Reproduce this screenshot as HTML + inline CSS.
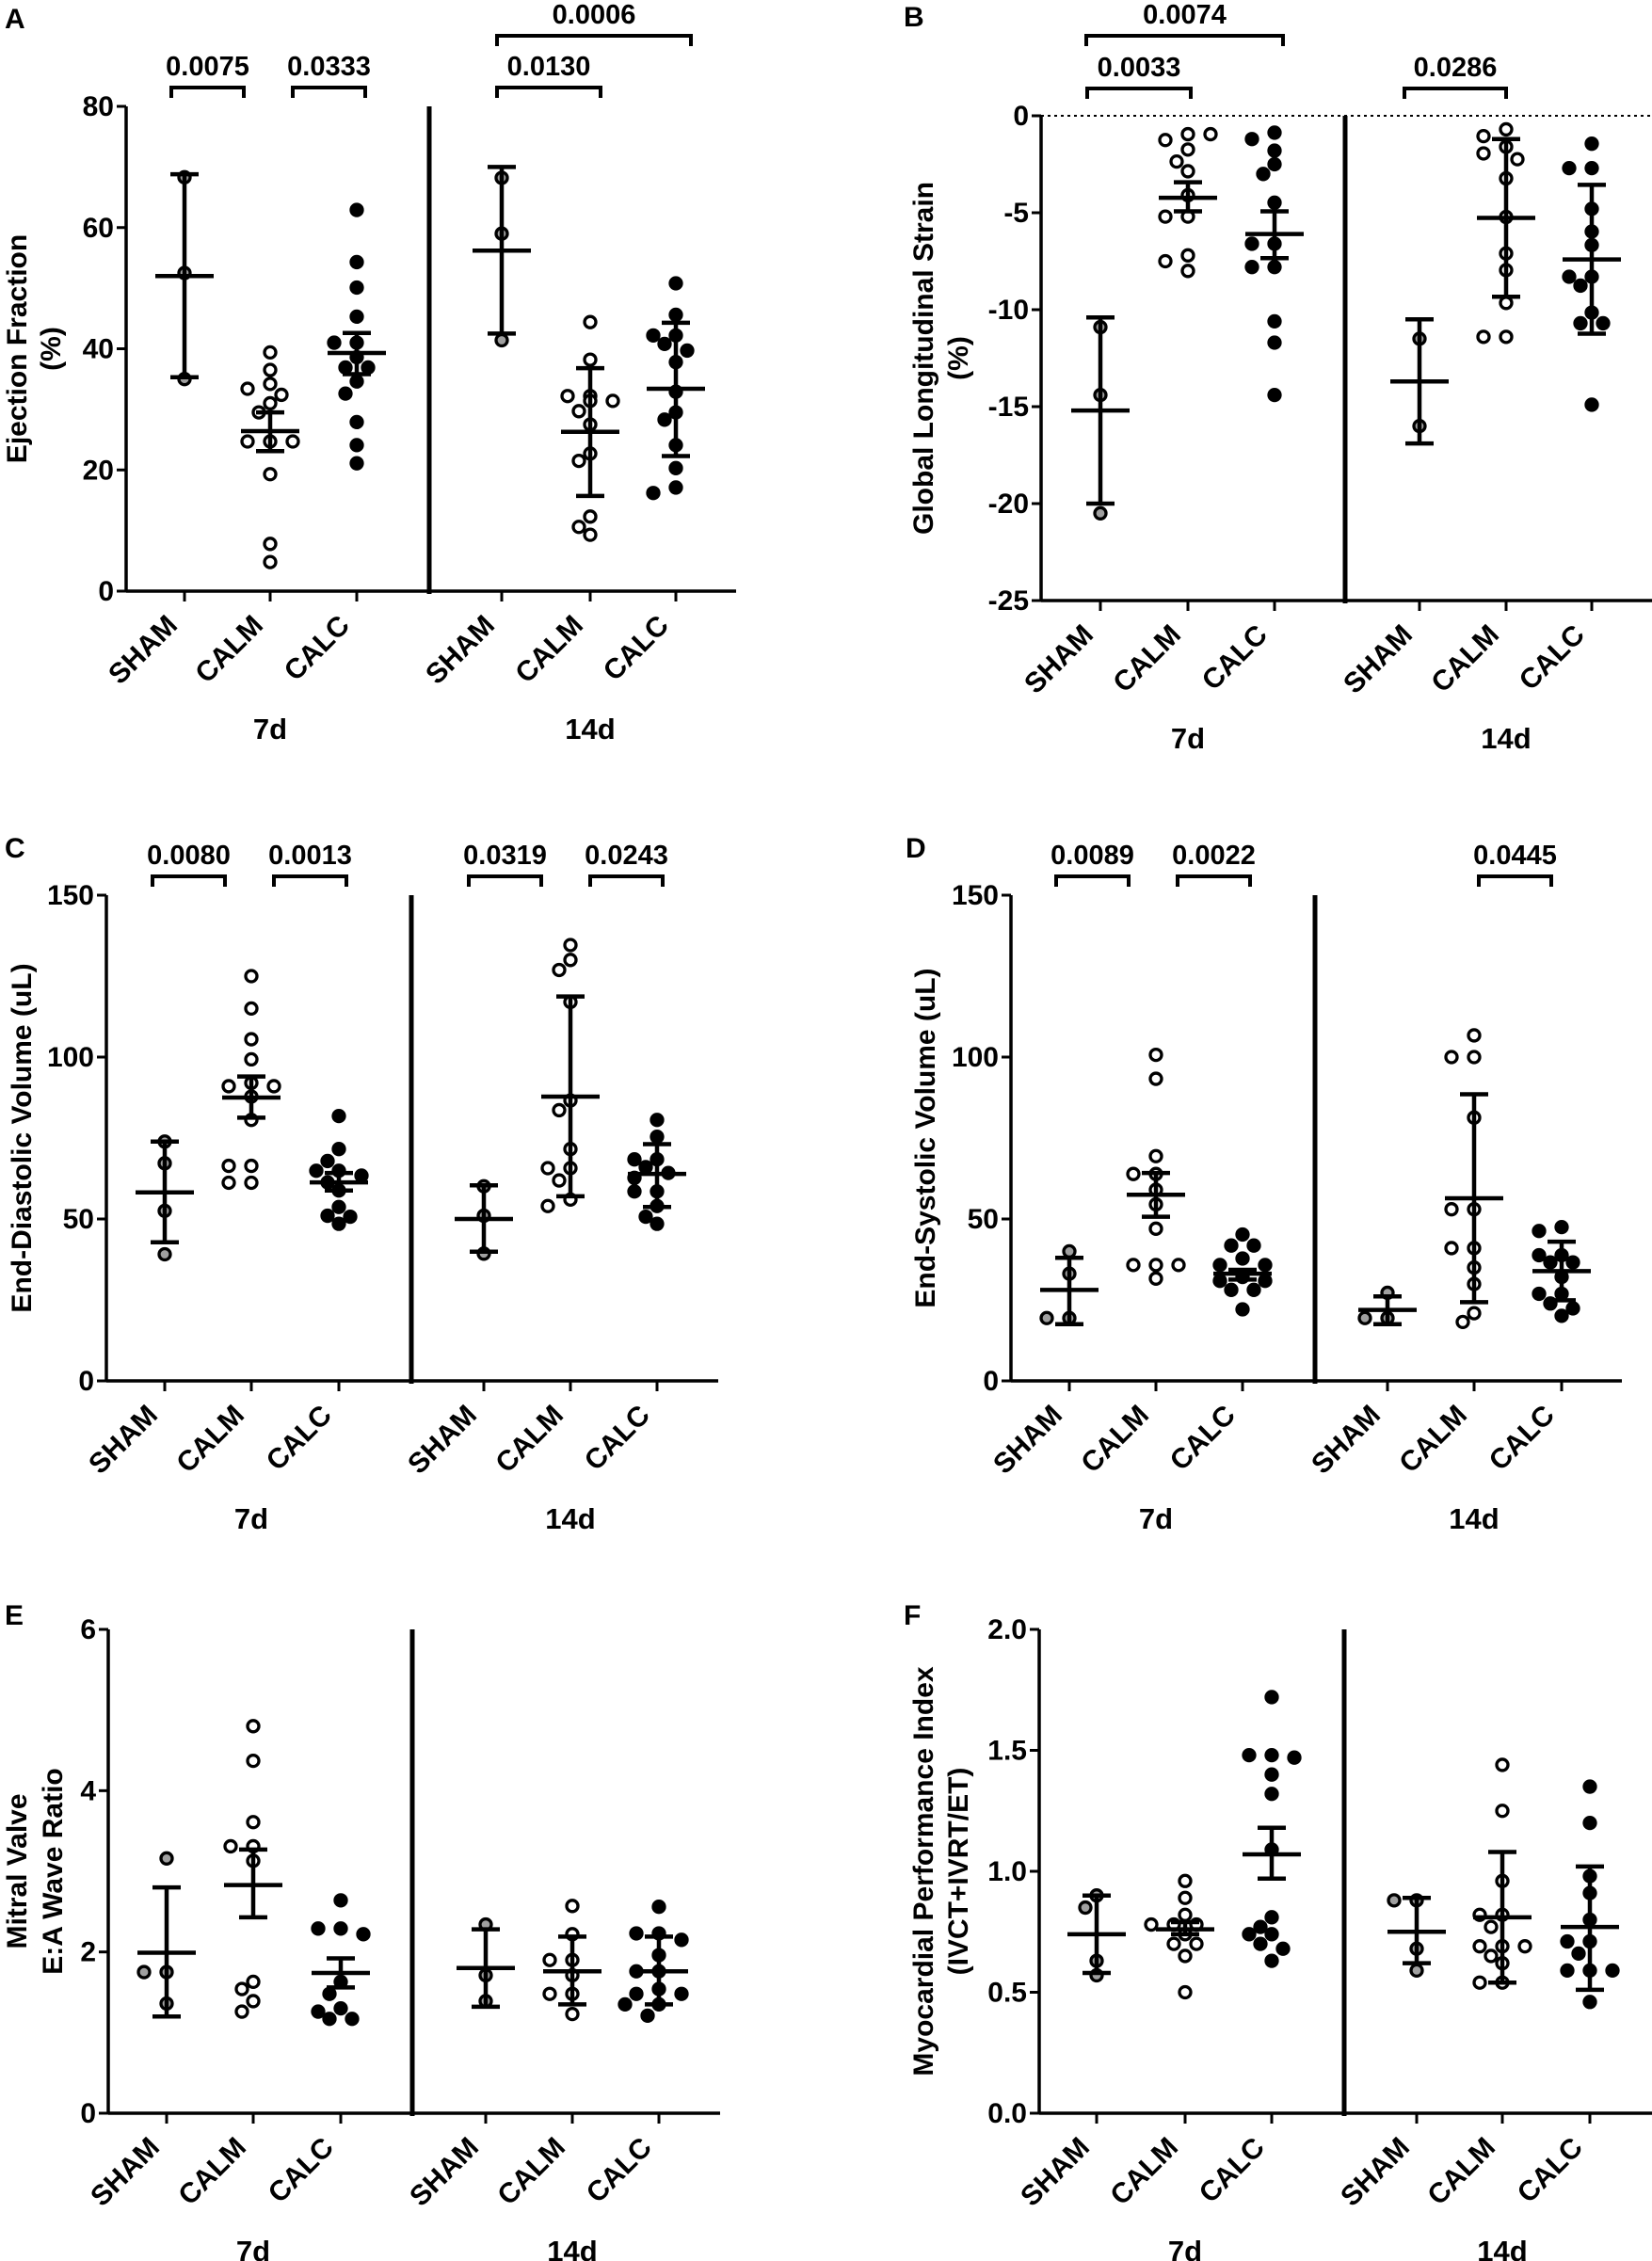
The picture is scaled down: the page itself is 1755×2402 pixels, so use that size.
<!DOCTYPE html>
<html><head><meta charset="utf-8">
<style>
html,body{margin:0;padding:0;background:#fff;}
svg{display:block;}
text{font-family:"Liberation Sans",Arial,sans-serif;font-weight:bold;fill:#000;}
</style></head>
<body>
<svg id="fig" width="1755" height="2402" viewBox="0 0 1755 2402" xmlns="http://www.w3.org/2000/svg"></svg>
<script>
// ---- data ----
const groupNames = ["SHAM","CALM","CALC","SHAM","CALM","CALC"];
const timeLabels = ["7d","14d"];
// Panel A: Ejection Fraction (%)
const efPoints = [[68.3,52.5,35],[39.4,36.5,34.2,33.4,32.4,31,29.5,24.7,24.7,24.7,19.3,7.8,4.8],[62.9,54.3,50.1,45.3,41,41,38.6,36.9,36.9,34.6,32.6,27.9,24.1,21.1],[68.2,59,41.4],[44.4,38.2,32.2,32.2,31.4,31.4,29.7,27.5,22.7,21.5,12.3,10.6,9.3],[50.8,45.6,42.2,42.2,40.8,39.7,37.8,32.9,29.5,28.3,24.1,20.3,17.1,16.2]];
const efMean = [52,26.4,39.3,56.2,26.3,33.4];
const efLo = [35.3,23.1,35.8,42.5,15.7,22.3];
const efHi = [68.8,29.5,42.6,70,36.8,44.3];
const efTicks = [0,20,40,60,80];
const efSig = [["0.0075",0,1],["0.0333",1,2],["0.0130",3,4],["0.0006",3,5]];
// Panel B: Global Longitudinal Strain (%)
const glsPoints = [[-10.9,-14.4,-20.5],[-0.95,-1.25,-1.74,-2.36,-2.86,-4.1,-5.2,-5.2,-7.2,-7.5,-8.0,-0.95],[-0.87,-1.2,-1.8,-2.5,-3.0,-4.48,-6.6,-6.6,-7.8,-7.8,-10.6,-11.7,-14.4],[-11.5,-16],[-0.7,-1.05,-1.6,-1.94,-2.24,-3.23,-5.22,-7.1,-7.96,-9.65,-11.4,-11.4],[-1.44,-2.7,-2.7,-4.8,-5.97,-6.67,-8.3,-8.3,-8.76,-10.15,-10.7,-10.7,-14.9]];
const glsMean = [-15.2,-4.23,-6.1,-13.7,-5.27,-7.41];
const glsLo = [-20,-4.93,-7.34,-16.9,-9.33,-11.24];
const glsHi = [-10.4,-3.43,-4.93,-10.5,-1.2,-3.56];
const glsTicks = [0,-5,-10,-15,-20,-25];
const glsSig = [["0.0033",0,1],["0.0074",0,2],["0.0286",3,4]];
// Panel C: End-Diastolic Volume (uL)
const edvPoints = [[73.9,67.2,52.5,39.1],[125,115,105.5,99.3,92,91,91,87.8,80.6,66.4,66.4,61.2,61.2],[81.8,71.6,67.9,64.9,64.9,63.4,61.3,58.8,53.7,51,50.7,48.5],[60.1,51,39.3],[134.6,130,126.9,117,86.6,83.6,71.6,65.7,65.7,61.9,56,54],[80.6,75.4,68.4,68.4,66,64.2,62.7,58.5,58.5,54,50.7,48.5]];
const edvMean = [58.2,87.5,61.3,50,87.8,63.9];
const edvLo = [42.8,81.3,58.8,39.9,57,53.7];
const edvHi = [73.9,94,64.2,60.4,118.7,73.1];
const volTicks = [0,50,100,150];
const edvSig = [["0.0080",0,1],["0.0013",1,2],["0.0319",3,4],["0.0243",4,5]];
// Panel D: End-Systolic Volume (uL)
const esvPoints = [[40,33.1,19.4,19.4],[100.7,93.3,69.4,63.9,63.9,59,54.5,47,35.8,35.8,35.8,31.6],[45.2,41.8,41.8,37.8,35.8,35.8,32.1,30.9,30.9,28.1,28.1,22.1],[27.2,19.4,19.4],[106.7,100,100,81.3,53,53,41,41,35,29.9,20.9,18.2],[47.5,46.3,38.8,38.8,36.6,36.6,32.1,26.9,26.9,23.9,22.4,20.1]];
const esvMean = [28.1,57.5,33.1,21.9,56.4,33.9];
const esvLo = [17.5,50.7,31.3,17.5,24.3,24.9];
const esvHi = [38,64.2,34.3,26.1,88.5,43];
const esvSig = [["0.0089",0,1],["0.0022",1,2],["0.0445",4,5]];
// Panel E: Mitral valve E:A ratio
const eaPoints = [[3.16,1.75,1.75,1.36],[4.8,4.37,3.61,3.31,3.31,3.13,1.63,1.54,1.39,1.26],[2.64,2.29,2.29,2.22,1.63,1.48,1.3,1.26,1.17,1.17],[2.34,1.71,1.39],[2.57,2.22,1.9,1.9,1.71,1.48,1.48,1.23],[2.56,2.23,2.23,2.15,1.96,1.76,1.76,1.54,1.48,1.48,1.35,1.35,1.21]];
const eaMean = [1.99,2.83,1.74,1.8,1.76,1.76];
const eaLo = [1.2,2.43,1.56,1.32,1.35,1.35];
const eaHi = [2.8,3.27,1.92,2.28,2.19,2.19];
const eaTicks = [0,2,4,6];
// Panel F: Myocardial Performance Index
const mpiPoints = [[0.9,0.85,0.63,0.57],[0.96,0.89,0.82,0.78,0.78,0.78,0.74,0.7,0.7,0.65,0.5],[1.72,1.48,1.48,1.47,1.4,1.32,1.09,0.81,0.77,0.74,0.74,0.7,0.68,0.63],[0.88,0.88,0.68,0.59],[1.44,1.25,0.96,0.82,0.82,0.77,0.69,0.69,0.69,0.65,0.62,0.54,0.54],[1.35,1.2,0.98,0.91,0.8,0.71,0.71,0.66,0.59,0.59,0.59,0.46]];
const mpiMean = [0.74,0.76,1.07,0.75,0.81,0.77];
const mpiLo = [0.58,0.74,0.97,0.62,0.54,0.51];
const mpiHi = [0.9,0.79,1.18,0.89,1.08,1.02];
const mpiTicks = [0,0.5,1.0,1.5,2.0];

// ---- layout (pixel geometry) ----
const panels = [
 {id:"a",letter:"A",lx:5,ly:30,ax:134,yTop:113,yBot:628,xEnd:782,div:456,cats:[196,287,379,533,627,718],dom:[0,80],ticks:efTicks,fmt:v=>String(v),title:["Ejection Fraction","(%)"],tx:[28,64],pts:efPoints,mean:efMean,lo:efLo,hi:efHi,sig:efSig,sigPos:[[182,259,93],[311,388,93],[528,638,93],[528,734,38]],dotted:false},
 {id:"b",letter:"B",lx:960,ly:28,ax:1106,yTop:123,yBot:638,xEnd:1755,div:1429,cats:[1169,1262,1354,1508,1600,1691],dom:[-25,0],ticks:glsTicks,fmt:v=>String(v),title:["Global Longitudinal Strain","(%)"],tx:[991,1028],pts:glsPoints,mean:glsMean,lo:glsLo,hi:glsHi,sig:glsSig,sigPos:[[1155,1265,94],[1154,1363,38],[1492,1600,94]],dotted:true},
 {id:"c",letter:"C",lx:5,ly:911,ax:113,yTop:951,yBot:1467,xEnd:763,div:437,cats:[175,267,360,514,606,698],dom:[0,150],ticks:volTicks,fmt:v=>String(v),title:["End-Diastolic Volume (uL)"],tx:[33],pts:edvPoints,mean:edvMean,lo:edvLo,hi:edvHi,sig:edvSig,sigPos:[[162,239,931],[291,368,931],[498,575,931],[627,704,931]],dotted:false},
 {id:"d",letter:"D",lx:962,ly:911,ax:1074,yTop:951,yBot:1467,xEnd:1723,div:1397,cats:[1136,1228,1320,1474,1566,1659],dom:[0,150],ticks:volTicks,fmt:v=>String(v),title:["End-Systolic Volume (uL)"],tx:[993],pts:esvPoints,mean:esvMean,lo:esvLo,hi:esvHi,sig:esvSig,sigPos:[[1122,1199,931],[1251,1328,931],[1571,1648,931]],dotted:false},
 {id:"e",letter:"E",lx:5,ly:1726,ax:115,yTop:1731,yBot:2245,xEnd:765,div:438,cats:[177,269,362,516,608,700],dom:[0,6],ticks:eaTicks,fmt:v=>String(v),title:["Mitral Valve","E:A Wave Ratio"],tx:[28,66],pts:eaPoints,mean:eaMean,lo:eaLo,hi:eaHi,sig:[],sigPos:[],dotted:false},
 {id:"f",letter:"F",lx:960,ly:1726,ax:1104,yTop:1731,yBot:2245,xEnd:1755,div:1428,cats:[1165,1259,1351,1505,1596,1689],dom:[0,2],ticks:mpiTicks,fmt:v=>v.toFixed(1),title:["Myocardial Performance Index","(IVCT+IVRT/ET)"],tx:[991,1028],pts:mpiPoints,mean:mpiMean,lo:mpiLo,hi:mpiHi,sig:[],sigPos:[],dotted:false}
];
const fills = ["#a0a0a0","#fff","#000","#a0a0a0","#fff","#000"];
const NS="http://www.w3.org/2000/svg";
const svg=document.getElementById("fig");
function mk(tag,attrs,parent){const e=document.createElementNS(NS,tag);for(const k in attrs)e.setAttribute(k,attrs[k]);(parent||svg).appendChild(e);return e;}
function line(x1,y1,x2,y2,w,p){return mk("line",{x1,y1,x2,y2,stroke:"#000","stroke-width":w||3.5},p);}

panels.forEach(P=>{
  const g=mk("g",{});
  
  
  const ys=v=>P.yBot-(v-P.dom[0])/(P.dom[1]-P.dom[0])*(P.yBot-P.yTop);
  const lt=mk("text",{x:P.lx,y:P.ly,"font-size":30},g); lt.textContent=P.letter;
  
  
  if(P.dotted){const d=mk("line",{x1:P.ax,y1:ys(0),x2:P.xEnd,y2:ys(0),stroke:"#000","stroke-width":2,"stroke-dasharray":"3,4"},g);
    
    }
  const ya=line(P.ax,P.yTop,P.ax,P.yBot+1.5,3.5,g);
  
  
  P.ticks.forEach(t=>{
    const y=ys(t); line(P.ax-10,y,P.ax,y,3,g);
    const tt=mk("text",{x:P.ax-13,y:y+10,"font-size":30,"text-anchor":"end"},g); tt.textContent=P.fmt(t);
    
    
  });
  const xa=line(P.ax,P.yBot,P.xEnd,P.yBot,3.5,g);
  
  
  const dv=line(P.div,P.yTop,P.div,P.yBot+3,5,g);
  
  
  const midY=(P.yTop+P.yBot)/2;
  P.title.forEach((s,i)=>{
    const x=P.tx[i];
    const t=mk("text",{x:x,y:midY,"font-size":30,"text-anchor":"middle",transform:`rotate(-90 ${x} ${midY})`},g);
    t.textContent=s;
    
    
  });
  P.cats.forEach((cx,i)=>{
    line(cx,P.yBot,cx,P.yBot+11,3,g);
    const x=cx-6,y=P.yBot+38;
    const t=mk("text",{x,y,"font-size":30,"text-anchor":"end",transform:`rotate(-45 ${x} ${y})`},g);
    t.textContent=groupNames[i];
    
    
  });
  [1,4].forEach((ci,k)=>{
    const t=mk("text",{x:P.cats[ci],y:P.yBot+157,"font-size":31,"text-anchor":"middle"},g);
    t.textContent=timeLabels[k];
    
    
  });
  P.pts.forEach((arr,i)=>{
    const cx=P.cats[i];
    const placed=[];
    const offs=[0,-12,12,-24,24,-36,36];
    arr.forEach(v=>{
      const y=ys(v);let ox=0;
      for(const o of offs){if(placed.every(p=>Math.hypot(p[0]-o,p[1]-y)>=14)){ox=o;break;}}
      placed.push([ox,y]);
      const c=mk("circle",{cx:cx+ox,cy:y,r:6,fill:fills[i],stroke:"#000","stroke-width":3.3},g);
      
      
    });
    const yl=ys(P.lo[i]),yh=ys(P.hi[i]),ym=ys(P.mean[i]);
    const eb=line(cx,yl,cx,yh,4.5,g);
    
    
    line(cx-15,yl,cx+15,yl,4.5,g); line(cx-15,yh,cx+15,yh,4.5,g);
    const ml=line(cx-31,ym,cx+31,ym,4.5,g);
    
    
  });
  P.sig.forEach((s,k)=>{
    const [x1,x2,y]=P.sigPos[k];
    const pth=mk("path",{d:`M${x1} ${y+11} V${y} H${x2} V${y+11}`,fill:"none",stroke:"#000","stroke-width":4},g);
    
    
    const t=mk("text",{x:(x1+x2)/2,y:y-13,"font-size":29,"text-anchor":"middle"},g);
    t.textContent=s[0];
    
    
  });
});
</script>
</body></html>
